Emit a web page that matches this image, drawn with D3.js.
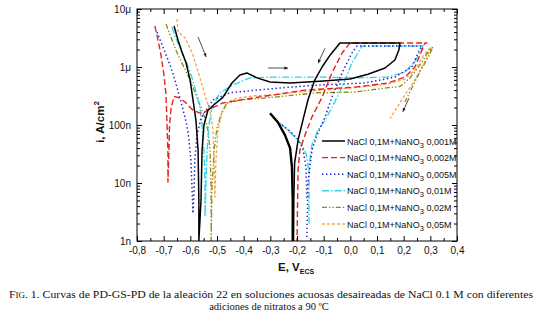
<!DOCTYPE html>
<html><head><meta charset="utf-8">
<script src="https://cdn.jsdelivr.net/npm/d3@7"></script>
<style>body{margin:0;background:#fff}svg{display:block}</style>
</head><body><svg id="c" width="538" height="321"></svg>
<script>
// ---------- data ----------
const xTickValues = [-0.8,-0.7,-0.6,-0.5,-0.4,-0.3,-0.2,-0.1,0.0,0.1,0.2,0.3,0.4];
const yTickValues = [1e-9,1e-8,1e-7,1e-6,1e-5];
const yTickLabels = ["1n","10n","100n","1\u03bc","10\u03bc"];
const legendConc = ["0,001M","0,002M","0,005M","0,01M","0,02M","0,05M"];

// [E (V), i (A/cm2)], null = gap between scan segments
const s001 = [[-0.661,5.1e-6],[-0.646,2.9e-6],[-0.631,1.8e-6],[-0.616,1.17e-6],[-0.601,6.0e-7],[-0.590,2.7e-7],[-0.579,1.2e-7],[-0.571,3.7e-8],[-0.568,5e-9],[-0.568,1e-9],
  [-0.560,5e-9],[-0.556,3.7e-8],[-0.549,1.0e-7],[-0.534,1.8e-7],[-0.508,2.3e-7],[-0.478,3.0e-7],[-0.444,5.3e-7],[-0.414,7.3e-7],[-0.388,7.9e-7],[-0.350,6.5e-7],[-0.301,5.5e-7],[-0.226,5.3e-7],[-0.114,5.7e-7],[-0.001,6.2e-7],[0.066,7.5e-7],[0.130,9.6e-7],[0.167,1.32e-6],[0.182,1.96e-6],[0.186,2.6e-6],
  [-0.039,2.6e-6],[-0.076,1.6e-6],[-0.106,1.0e-6],[-0.133,6.0e-7],[-0.159,2.7e-7],[-0.178,1.2e-7],[-0.196,5.5e-8],[-0.209,2.2e-8],[-0.212,5e-9],[-0.213,1e-9]];
const s001Second = [[-0.301,1.6e-7],[-0.271,1.1e-7],[-0.245,6.7e-8],[-0.226,4.0e-8],[-0.219,1.9e-8],[-0.216,5e-9],[-0.216,1e-9]];
const s002 = [[-0.733,5.1e-6],[-0.721,2.9e-6],[-0.710,1.6e-6],[-0.699,7.3e-7],[-0.691,3.3e-7],[-0.688,1.2e-7],[-0.684,3.7e-8],[-0.684,1.04e-8],
  [-0.680,3.7e-8],[-0.678,1.0e-7],[-0.672,1.96e-7],[-0.661,3.1e-7],[-0.646,3.0e-7],[-0.620,2.5e-7],[-0.590,1.8e-7],[-0.564,1.6e-7],[-0.545,1.7e-7],[-0.526,1.9e-7],[-0.478,2.4e-7],[-0.414,2.7e-7],[-0.290,3.3e-7],[-0.170,4.0e-7],[0.017,4.5e-7],[0.141,5.3e-7],[0.205,6.7e-7],[0.242,1.0e-6],[0.269,1.96e-6],[0.280,2.6e-6],[0.287,2.6e-6],
  [-0.001,2.6e-6],[-0.031,1.74e-6],[-0.069,7.9e-7],[-0.106,3.0e-7],[-0.144,1.37e-7],[-0.170,6.7e-8],[-0.189,3.7e-8],[-0.196,1.7e-8],[-0.200,1e-9]];
const s005 = [[-0.725,4.0e-6],[-0.710,2.7e-6],[-0.695,1.8e-6],[-0.676,1.08e-6],[-0.658,6.0e-7],[-0.639,2.9e-7],[-0.624,1.6e-7],[-0.613,1.0e-7],[-0.605,5.5e-8],[-0.598,2.5e-8],[-0.594,9.2e-9],[-0.590,3.0e-9],
  [-0.586,7.6e-9],[-0.583,2.5e-8],[-0.575,6.7e-8],[-0.560,1.3e-7],[-0.541,1.8e-7],[-0.515,2.7e-7],[-0.451,3.6e-7],[-0.350,4.0e-7],[-0.226,4.5e-7],[-0.114,4.9e-7],[0.055,5.3e-7],[0.167,6.7e-7],[0.231,1.0e-6],[0.254,1.74e-6],[0.269,2.3e-6],
  [0.025,2.3e-6],[0.006,1.74e-6],[-0.031,7.9e-7],[-0.069,3.0e-7],[-0.095,1.37e-7],[-0.125,6.7e-8],[-0.144,3.7e-8],[-0.159,1.0e-8],[-0.163,1.17e-9],null,
  [-0.256,1.0e-7],[-0.226,7.8e-8],[-0.200,5.9e-8],[-0.178,3.9e-8],[-0.166,1.8e-8],[-0.163,5e-9]];
const s01 = [[-0.669,4.9e-6],[-0.654,3.1e-6],[-0.635,1.96e-6],[-0.613,1.17e-6],[-0.594,6.5e-7],[-0.575,3.3e-7],[-0.564,2.0e-7],[-0.556,1.0e-7],[-0.549,3.7e-8],[-0.545,1.13e-8],[-0.545,2.6e-9],
  [-0.541,1.13e-8],[-0.537,3.7e-8],[-0.530,1.0e-7],[-0.519,2.0e-7],[-0.489,3.6e-7],[-0.440,4.9e-7],[-0.376,6.5e-7],[-0.290,6.7e-7],[-0.114,6.7e-7],[0.017,6.5e-7],[0.141,6.7e-7],[0.205,8.2e-7],[0.242,1.25e-6],[0.261,1.74e-6],[0.273,2.3e-6],
  [0.044,2.3e-6],[0.006,1.17e-6],[-0.031,4.5e-7],[-0.069,2.0e-7],[-0.095,1.2e-7],[-0.121,8.2e-8],[-0.144,4.5e-8],[-0.155,2.0e-8],[-0.155,2.0e-9],null,
  [-0.264,1.08e-7],[-0.219,7.0e-8],[-0.185,4.8e-8],[-0.166,3.2e-8],[-0.157,1.8e-8]];
const s02 = [[-0.691,5.5e-6],[-0.676,3.6e-6],[-0.654,1.96e-6],[-0.628,1.08e-6],[-0.601,6.0e-7],[-0.579,3.3e-7],[-0.560,2.0e-7],[-0.545,1.3e-7],[-0.534,8.2e-8],[-0.526,3.7e-8],[-0.522,7.6e-9],[-0.522,1e-9],
  [-0.519,7.6e-9],[-0.511,3.7e-8],[-0.500,8.9e-8],[-0.485,1.5e-7],[-0.463,2.4e-7],[-0.414,2.7e-7],[-0.290,3.0e-7],[-0.125,3.6e-7],[0.017,3.7e-7],[0.141,4.4e-7],[0.186,4.6e-7],[0.224,6.5e-7],[0.261,1.08e-6],[0.291,1.8e-6],[0.310,2.2e-6],
  [0.291,1.45e-6],[0.261,8.2e-7],[0.231,4.4e-7],[0.205,2.5e-7]];
const s05 = [[-0.650,6.7e-6],[-0.646,4.0e-6],[-0.620,3.2e-6],[-0.590,1.6e-6],[-0.564,6.5e-7],[-0.545,3.3e-7],[-0.526,1.7e-7],[-0.515,8.2e-8],[-0.511,2.5e-8],[-0.508,5.7e-9],
  [-0.504,2.5e-8],[-0.496,8.2e-8],[-0.481,1.7e-7],[-0.459,2.5e-7],[-0.425,2.9e-7],[-0.358,3.2e-7],[-0.290,3.3e-7],[-0.170,3.8e-7],[0.017,4.4e-7],[0.141,5.1e-7],[0.205,6.2e-7],[0.242,8.9e-7],[0.269,1.45e-6],[0.291,1.96e-6],[0.305,2.2e-6],
  [0.280,1.25e-6],[0.242,6.0e-7],[0.205,3.3e-7],[0.175,2.0e-7],[0.149,1.3e-7]];
const seriesData = [s001,s002,s005,s01,s02,s05];

// arrows [E0,i0,E1,i1]
const arrowsData = [[-0.571,3.3e-6,-0.541,1.5e-6],[-0.309,9.6e-7,-0.234,9.6e-7],[-0.095,2.1e-6,-0.121,1.17e-6],[0.220,2.9e-7,0.197,1.7e-7]];

// ---------- styles ----------
const colors = ["#000000","#e8231f","#2020d0","#30d8ea","#8a8a10","#f4a548"];
const dashes = [null,"6,3","1.4,2.6","7,2,1.5,2","5,2,1.4,2,1.4,2","3,2"];
const widths = [1.5,1.4,1.5,1.4,1.3,1.3];

// ---------- layout ----------
const L=137,R=457,T=9,B=241;
const svg=d3.select("#c");
const x=d3.scaleLinear().domain([-0.8,0.4]).range([L,R]);
const y=d3.scaleLog().domain([1e-9,1e-5]).range([B,T]);
const axisFont="Liberation Sans, Arial, sans-serif";

svg.append("defs").append("clipPath").attr("id","pc").append("rect").attr("x",L).attr("y",T).attr("width",R-L).attr("height",B-T);
const mk=svg.select("defs").append("marker").attr("id","ah").attr("viewBox","0 0 10 10").attr("refX",9).attr("refY",5)
  .attr("markerWidth",5).attr("markerHeight",5).attr("orient","auto");
mk.append("path").attr("d","M0,1L10,5L0,9Z").attr("fill","#222");

const line=d3.line().defined(d=>d!==null).x(d=>x(d[0])).y(d=>y(d[1]));
const g=svg.append("g").attr("clip-path","url(#pc)");
for(let k=seriesData.length-1;k>=0;k--){
  g.append("path").attr("d",line(seriesData[k])).attr("fill","none").attr("stroke",colors[k])
   .attr("stroke-width",widths[k]).attr("stroke-dasharray",dashes[k]).attr("stroke-linejoin","round");
}
g.append("path").attr("d",line(s001Second)).attr("fill","none").attr("stroke",colors[0]).attr("stroke-width",2.4).attr("stroke-linejoin","round");
// arrows
arrowsData.forEach(a=>{
  svg.append("line").attr("x1",x(a[0])).attr("y1",y(a[1])).attr("x2",x(a[2])).attr("y2",y(a[3]))
    .attr("stroke","#222").attr("stroke-width",0.8).attr("marker-end","url(#ah)");
});

// frame
svg.append("rect").attr("x",L).attr("y",T).attr("width",R-L).attr("height",B-T).attr("fill","none").attr("stroke","#000").attr("stroke-width",1);

const fmtX=d=>(d<-1e-9?"-":"")+Math.abs(d).toFixed(1).replace(".",",");
const xMinor=d3.range(-0.75,0.4,0.1);
function style(ax){ax.select(".domain").remove();ax.selectAll("line").attr("stroke","#000");ax.selectAll("text").attr("font-family",axisFont).attr("font-size",10).attr("fill","#111");}
let ax=svg.append("g").attr("transform",`translate(0,${B})`).call(d3.axisBottom(x).tickValues(xTickValues).tickSize(-5).tickPadding(6).tickFormat(fmtX));style(ax);
ax=svg.append("g").attr("transform",`translate(0,${B})`).call(d3.axisBottom(x).tickValues(xMinor).tickSize(-3).tickFormat(""));style(ax);
ax=svg.append("g").attr("transform",`translate(0,${T})`).call(d3.axisTop(x).tickValues(xTickValues).tickSize(-5).tickFormat(""));style(ax);
ax=svg.append("g").attr("transform",`translate(0,${T})`).call(d3.axisTop(x).tickValues(xMinor).tickSize(-3).tickFormat(""));style(ax);
const yMinor=[];[1e-9,1e-8,1e-7,1e-6].forEach(d=>{for(let m=2;m<10;m++)yMinor.push(d*m);});
ax=svg.append("g").attr("transform",`translate(${L},0)`).call(d3.axisLeft(y).tickValues(yTickValues).tickSize(-5).tickPadding(6).tickFormat((d,i)=>yTickLabels[i]));style(ax);
ax=svg.append("g").attr("transform",`translate(${L},0)`).call(d3.axisLeft(y).tickValues(yMinor).tickSize(-3).tickFormat(""));style(ax);
ax=svg.append("g").attr("transform",`translate(${R},0)`).call(d3.axisRight(y).tickValues(yTickValues).tickSize(-5).tickFormat(""));style(ax);
ax=svg.append("g").attr("transform",`translate(${R},0)`).call(d3.axisRight(y).tickValues(yMinor).tickSize(-3).tickFormat(""));style(ax);

// legend
const lg=svg.append("g");
legendConc.forEach((c,k)=>{
  const yy=141+k*16.6;
  lg.append("line").attr("x1",322).attr("x2",345).attr("y1",yy).attr("y2",yy).attr("stroke",colors[k]).attr("stroke-width",widths[k]).attr("stroke-dasharray",dashes[k]);
  const t=lg.append("text").attr("x",347).attr("y",yy+3.5).attr("font-family",axisFont).attr("font-size",9).attr("fill","#111");
  t.append("tspan").text("NaCl 0,1M+NaNO");
  t.append("tspan").attr("dy",3).attr("font-size",7.5).text("3");
  t.append("tspan").attr("dy",-3).text(" "+c);
});

// axis titles
const yt=svg.append("text").attr("transform","translate(104,122) rotate(-90)").attr("text-anchor","middle")
  .attr("font-family",axisFont).attr("font-size",11.5).attr("font-weight","bold").attr("fill","#111");
yt.append("tspan").text("i, A/cm");
yt.append("tspan").attr("dy",-5).attr("font-size",8).text("2");
const xt=svg.append("text").attr("x",278).attr("y",271).attr("font-family",axisFont).attr("font-size",11.5).attr("font-weight","bold").attr("fill","#111");
xt.append("tspan").text("E, V");
xt.append("tspan").attr("dy",3).attr("font-size",7).text("ECS");

// caption
const cf="Liberation Serif, Times New Roman, serif";
const c1=svg.append("text").attr("x",271).attr("y",298).attr("text-anchor","middle").attr("font-family",cf).attr("font-size",10.5).attr("fill","#111")
  .attr("textLength",524).attr("lengthAdjust","spacingAndGlyphs");
c1.append("tspan").text("F");
c1.append("tspan").attr("font-size",8).text("IG");
c1.append("tspan").text(". 1. Curvas de PD-GS-PD de la aleación 22 en soluciones acuosas desaireadas de NaCl 0.1 M con diferentes");
svg.append("text").attr("x",269).attr("y",310).attr("text-anchor","middle").attr("font-family",cf).attr("font-size",10.5).attr("fill","#111")
  .text("adiciones de nitratos a 90 ºC");
</script></body></html>
